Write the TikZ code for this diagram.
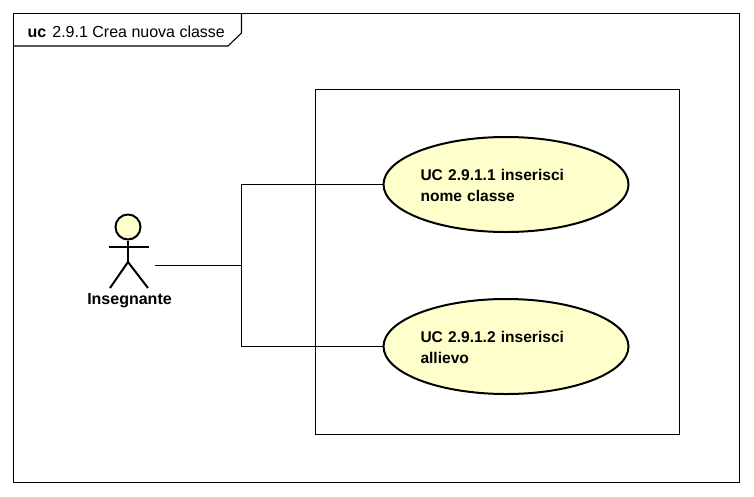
\documentclass[tikz,border=0pt]{standalone}
\usepackage{fontspec}
\setmainfont{Liberation Sans}
\usetikzlibrary{shapes.geometric}
\tikzset{
  line/.style={draw=black,line width=1.1pt},
  thick line/.style={draw=black,line width=2pt},
  usecase/.style={ellipse,draw=black,line width=2pt,fill=ucfill,minimum width=245pt,minimum height=95pt,inner sep=0pt,text width=171pt,align=left,font=\fontsize{15.55}{21}\selectfont\bfseries,execute at begin node={\rule{0pt}{13pt}}},
  actorhead/.style={circle,draw=black,line width=2pt,fill=ucfill,minimum size=25pt,inner sep=0pt},
  actorlabel/.style={inner sep=0pt,font=\fontsize{16}{18}\selectfont\bfseries},
  boundary/.style={draw=black,line width=1.1pt,fill=white,minimum width=364pt,minimum height=345pt,inner sep=0pt}
}
\definecolor{ucfill}{RGB}{255,255,204}
\begin{document}
\begin{tikzpicture}[x=1pt,y=-1pt]
\useasboundingbox (0,0) rectangle (754,496);
\fill[white] (0,0) rectangle (754,496);
\draw[line] (13.5,13.5) rectangle (739.5,482.6);
\draw[line] (13.5,46) -- (228,46) -- (241.5,33) -- (241.5,13.5);
\node[anchor=base west,inner sep=0pt,font=\fontsize{16}{18}\selectfont] (title) at (27.5,37) {\textbf{uc}\hspace{6pt}2.9.1 Crea nuova classe};
\node[boundary] (sys) at (497.5,262) {};
\node[usecase] (uc1) at (506,184.5) {UC 2.9.1.1 inserisci\\nome classe};
\node[usecase] (uc2) at (506,346.5) {UC 2.9.1.2 inserisci\\allievo};
\node[actorhead] (head) at (128,227) {};
\coordinate (hip) at (128,262);
\coordinate (armL) at (109,247);
\coordinate (armR) at (149,247);
\coordinate (legL) at (110,288);
\coordinate (legR) at (148,288);
\draw[thick line] (head.south) -- (hip);
\draw[thick line] (armL) -- (armR);
\draw[thick line] (legL) -- (hip) -- (legR);
\node[actorlabel] (actor) at (129.5,300.5) {Insegnante};
\coordinate (actorport) at (155,265.5);
\coordinate (junction) at (241.5,265.5);
\draw[line] (actorport) -- (junction);
\draw[line] (junction) |- (uc1.west);
\draw[line] (junction) |- (uc2.west);
\end{tikzpicture}
\end{document}
